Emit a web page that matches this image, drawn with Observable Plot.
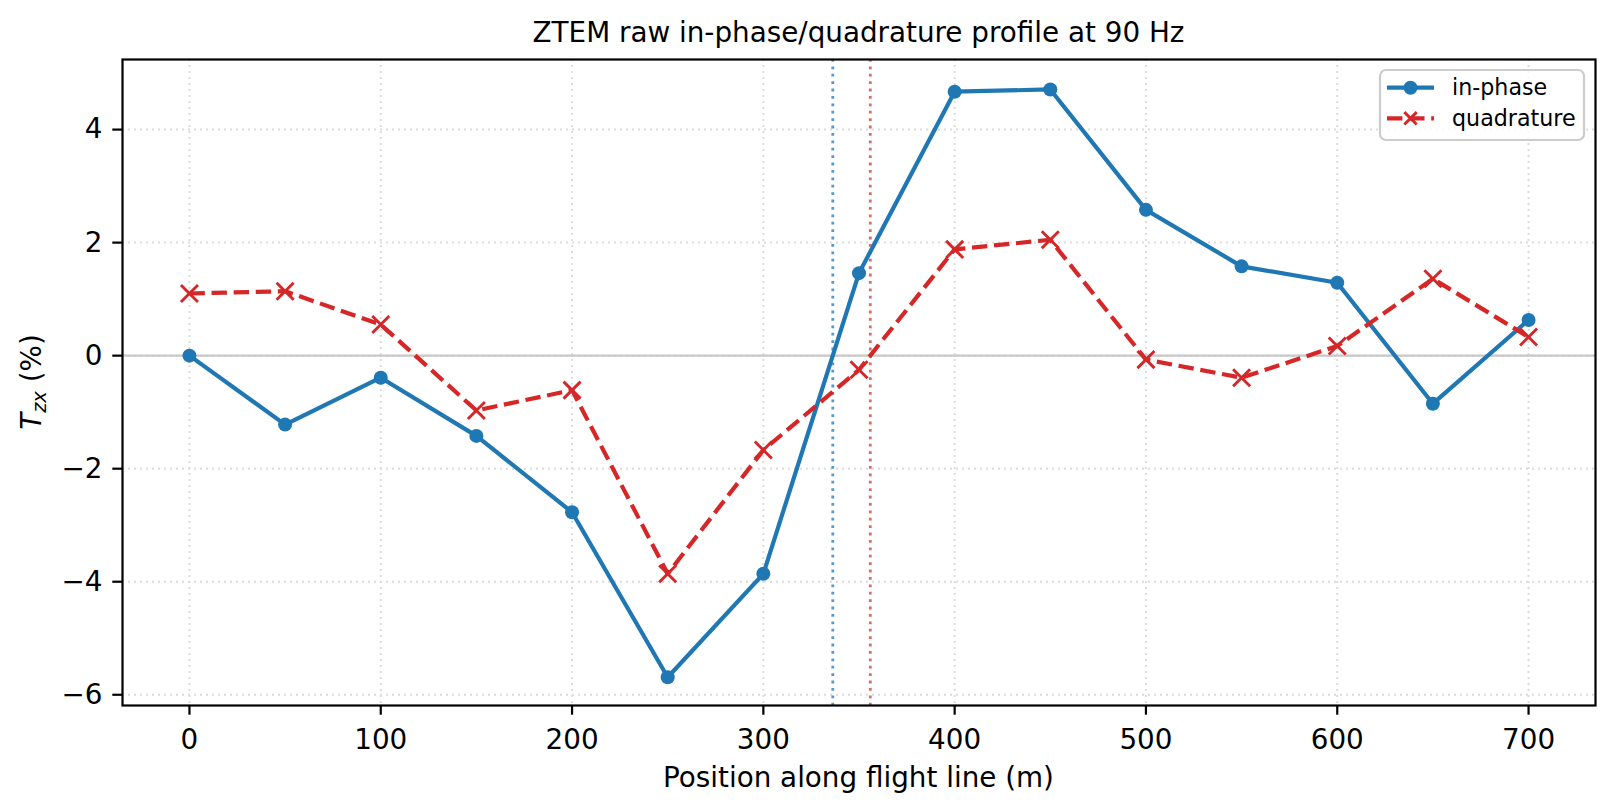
<!DOCTYPE html>
<html><head><meta charset="utf-8">
<script src="https://cdn.jsdelivr.net/npm/d3@7"></script>
<script src="https://cdn.jsdelivr.net/npm/@observablehq/plot@0.6"></script>
<style>
body{margin:0;background:#fff}
svg{font-family:"DejaVu Sans",sans-serif}
</style>
</head><body><div id="chart"></div>
<script>
// ---- data ----
const positions  = [0, 50, 100, 150, 200, 250, 300, 350, 400, 450, 500, 550, 600, 650, 700];
const inPhase    = [0.00, -1.22, -0.39, -1.42, -2.77, -5.69, -3.86, 1.46, 4.67, 4.71, 2.58, 1.58, 1.29, -0.85, 0.63];
const quadrature = [1.10, 1.14, 0.55, -0.97, -0.61, -3.86, -1.67, -0.25, 1.88, 2.05, -0.07, -0.39, 0.17, 1.36, 0.33];
const zeroCrossIn = [336.3];
const zeroCrossQ  = [355.9];
const xTicks = [0, 100, 200, 300, 400, 500, 600, 700];
const yTicks = [-6, -4, -2, 0, 2, 4];
const titleText = "ZTEM raw in-phase/quadrature profile at 90 Hz";
const xLabel = "Position along flight line (m)";
const seriesNames = ["in-phase", "quadrature"];

const rows = positions.map((x, i) => ({x, ip: inPhase[i], q: quadrature[i]}));

const BLUE = "#1f77b4", RED = "#d62728";
const W = 1614, H = 812;
const mL = 122, mR = 19, mT = 59, mB = 107;
const FS = 27.8;

const plot = Plot.plot({
  width: W, height: H,
  marginLeft: mL, marginRight: mR, marginTop: mT, marginBottom: mB,
  style: {fontFamily: "DejaVu Sans", fontSize: FS + "px", background: "#fff", color: "#000", overflow: "visible"},
  x: {domain: [-35, 735]},
  y: {domain: [-6.19, 5.24]},
  marks: [
    Plot.gridX(xTicks, {stroke: "#dcdcdc", strokeOpacity: 1, strokeWidth: 2, strokeDasharray: "2,4"}),
    Plot.gridY(yTicks, {stroke: "#dcdcdc", strokeOpacity: 1, strokeWidth: 2, strokeDasharray: "2,4"}),
    Plot.ruleY([0], {stroke: "#c8c8c8", strokeWidth: 2.2}),
    Plot.ruleX(zeroCrossIn, {stroke: BLUE, strokeOpacity: 0.75, strokeWidth: 2.8, strokeDasharray: "2.8,4.6"}),
    Plot.ruleX(zeroCrossQ, {stroke: RED, strokeOpacity: 0.7, strokeWidth: 2.8, strokeDasharray: "2.8,4.6"}),
    Plot.line(rows, {x: "x", y: "ip", stroke: BLUE, strokeWidth: 4.2, strokeLinejoin: "round", strokeLinecap: "butt"}),
    Plot.dot(rows, {x: "x", y: "ip", r: 7, fill: BLUE, stroke: "none"}),
    Plot.line(rows, {x: "x", y: "q", stroke: RED, strokeWidth: 4.2, strokeDasharray: "15.4,6.7", strokeLinejoin: "round", strokeLinecap: "butt"}),
    Plot.dot(rows, {x: "x", y: "q", symbol: "times", r: 7.8, stroke: RED, strokeWidth: 2.9, fill: "none"}),
    Plot.frame({stroke: "#000", strokeWidth: 2.2}),
    Plot.axisX({ticks: xTicks, tickSize: 9.7, tickPadding: 13.6, strokeWidth: 2.2, label: null, fontSize: FS}),
    Plot.axisY({ticks: yTicks, tickSize: 9.7, tickPadding: 10.3, strokeWidth: 2.2, label: null, fontSize: FS})
  ]
});

document.getElementById("chart").appendChild(plot);

const svg = d3.select(plot);
const cx = (mL + (W - mR)) / 2;
const cy = (mT + (H - mB)) / 2;

// title
svg.append("text").attr("x", cx).attr("y", 42.3).attr("text-anchor", "middle")
  .attr("font-size", FS).attr("fill", "#000").text(titleText);

// x label
svg.append("text").attr("x", cx).attr("y", 786.7).attr("text-anchor", "middle")
  .attr("font-size", FS).attr("fill", "#000").text(xLabel);

// y label  T_zx (%)
const yl = svg.append("text").attr("transform", `translate(41,${cy}) rotate(-90)`)
  .attr("text-anchor", "middle").attr("font-size", FS).attr("fill", "#000");
yl.append("tspan").attr("font-style", "italic").text("T");
yl.append("tspan").attr("font-style", "italic").attr("font-size", FS * 0.7).attr("dy", 5).text("zx");
yl.append("tspan").attr("dy", -5).text(" (%)");

// legend
const lg = svg.append("g").attr("text-anchor", "start");
lg.append("rect").attr("x", 1380).attr("y", 70).attr("width", 204).attr("height", 70)
  .attr("rx", 6).attr("fill", "#fff").attr("fill-opacity", 0.8).attr("stroke", "#cccccc").attr("stroke-width", 2.2);
const rowsY = [87.7, 118.3];
// in-phase sample
lg.append("line").attr("x1", 1387).attr("x2", 1434).attr("y1", rowsY[0]).attr("y2", rowsY[0])
  .attr("stroke", BLUE).attr("stroke-width", 4.2);
lg.append("circle").attr("cx", 1410.5).attr("cy", rowsY[0]).attr("r", 7).attr("fill", BLUE);
// quadrature sample
lg.append("line").attr("x1", 1387).attr("x2", 1434).attr("y1", rowsY[1]).attr("y2", rowsY[1])
  .attr("stroke", RED).attr("stroke-width", 4.2).attr("stroke-dasharray", "15.4,6.7");
const s = 6.2;
lg.append("path").attr("d", `M${1410.5 - s},${rowsY[1] - s}L${1410.5 + s},${rowsY[1] + s}M${1410.5 - s},${rowsY[1] + s}L${1410.5 + s},${rowsY[1] - s}`)
  .attr("stroke", RED).attr("stroke-width", 2.9).attr("fill", "none");
seriesNames.forEach((n, i) => {
  lg.append("text").attr("x", 1452).attr("y", rowsY[i]).attr("dy", "0.35em")
    .attr("text-anchor", "start").attr("font-size", 22.2).attr("fill", "#000").text(n);
});
</script>
</body></html>
